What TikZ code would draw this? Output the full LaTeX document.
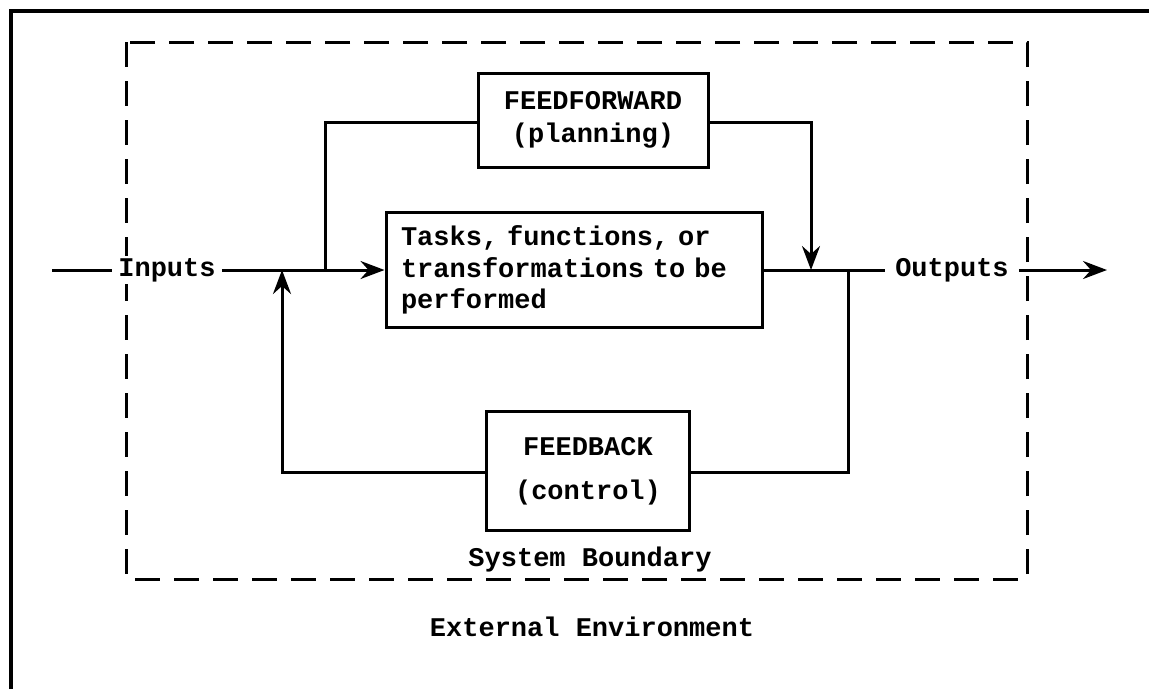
\documentclass[tikz,border=0pt]{standalone}
\usepackage{fontspec}
\setmonofont{Liberation Mono}
\usetikzlibrary{arrows.meta}
\begin{document}
\begin{tikzpicture}[x=1pt,y=-1pt,
  every node/.style={font=\ttfamily\bfseries\frenchspacing\fontsize{27}{31.5}\selectfont},
  blk/.style={draw,line width=3pt,rectangle,inner sep=0pt},
  wire/.style={line width=3pt},
  arr/.style={line width=3pt,-{Stealth[length=24pt,width=18pt,inset=8pt]}},
  boundary/.style={line width=3pt,dash pattern=on 25pt off 14pt},
  lbl/.style={inner ysep=2pt,fill=white}]
\useasboundingbox (0,0) rectangle (1149,689);
% external frame (only top and left edges visible)
\draw[line width=4pt] (11,689) -- (11,11) -- (1149,11);
% system boundary
\draw[boundary] (126,42) rectangle (1027,579);
% blocks
\node[blk,minimum width=230pt,minimum height=94pt,align=center,
  font=\ttfamily\bfseries\frenchspacing\fontsize{27}{33}\selectfont] (ff) at (593,120)
  {FEEDFORWARD\\(planning)};
\node[blk,minimum width=376pt,minimum height=115pt,align=left,text width=346pt,inner xsep=15pt] (task) at (574,270)
  {Tasks, functions, or\\transformations to be\\performed};
\node[blk,minimum width=203pt,minimum height=119pt,align=center,
  font=\ttfamily\bfseries\frenchspacing\fontsize{27}{44}\selectfont] (fb) at (588,471)
  {FEEDBACK\\(control)};
% labels
\node[lbl,inner xsep=6pt] (in) at (167,270) {Inputs};
\node[lbl,inner xsep=10pt] (out) at (952,270) {Outputs};
\node (sb) at (590,560) {System Boundary};
\node (env) at (592,627) {External Environment};
% helper coordinates
\coordinate (start) at (52,270);
\coordinate (end) at (1107,270);
\coordinate (ffsplit) at (325,270);
\coordinate (ffl) at (325,122);
\coordinate (ffr) at (811,122);
\coordinate (ffjoin) at (811,270);
\coordinate (fbsplit) at (848,270);
\coordinate (fbr) at (848,472);
\coordinate (fbl) at (282,472);
\coordinate (fbjoin) at (282,270);
% connectors
\draw[wire] (start) -- (in.west);
\draw[arr] (in.east) -- (task.west);
\draw[wire] (ffsplit) -- (ffl) -- (ff.west |- ffl);
\draw[arr] (ff.east |- ffr) -- (ffr) -- (ffjoin);
\draw[wire] (task.east |- out.west) -- (out.west);
\draw[arr] (out.east) -- (end);
\draw[wire] (fbsplit) -- (fbr) -- (fb.east |- fbr);
\draw[arr] (fb.west |- fbl) -- (fbl) -- (fbjoin);
\end{tikzpicture}
\end{document}
